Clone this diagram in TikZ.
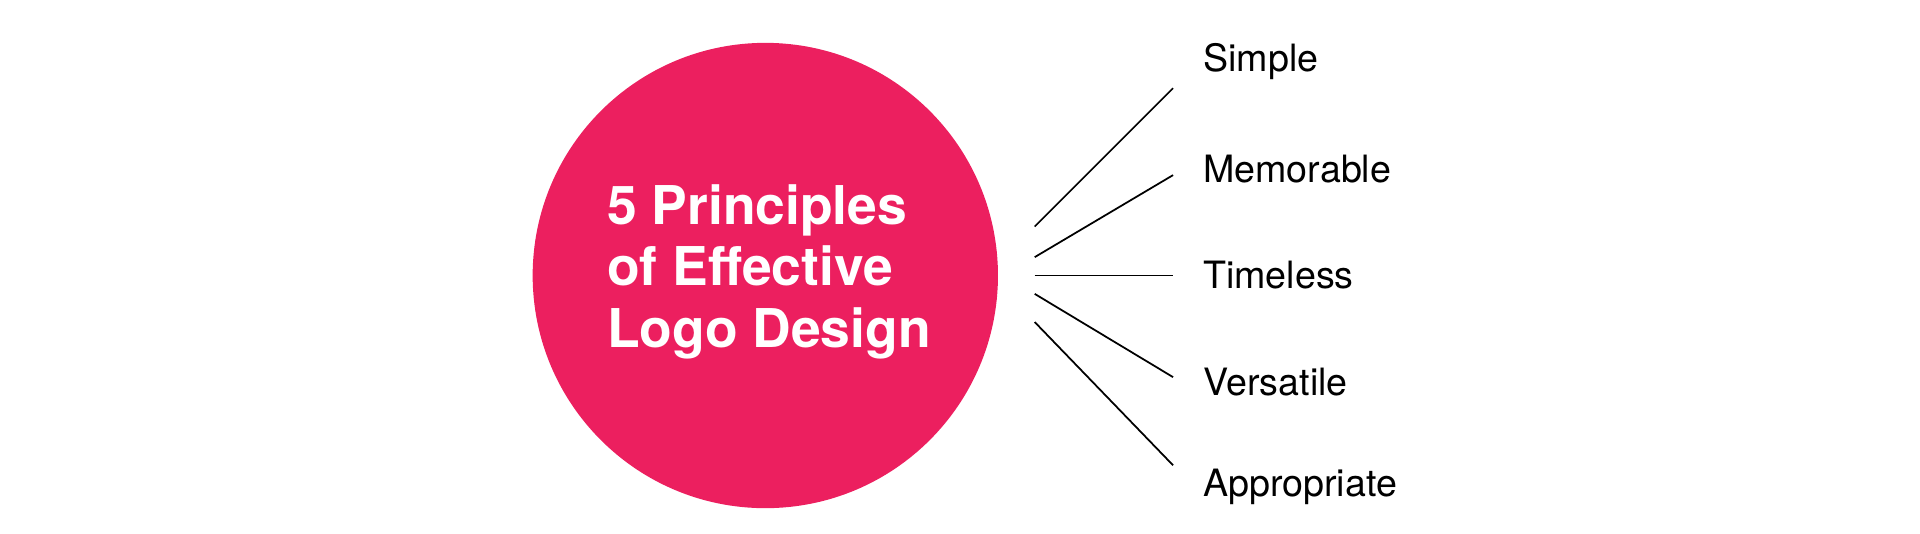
\documentclass[tikz,border=0pt]{standalone}
\usepackage{fontspec}
\setmainfont{TeX Gyre Heros}
\definecolor{pink}{HTML}{EC1F5F}
\begin{document}
\begin{tikzpicture}[x=0.012245cm,y=-0.012245cm,
  item/.style={anchor=west,font=\fontsize{10.7pt}{12pt}\selectfont,inner sep=0pt},
  link/.style={draw=black,line width=0.5pt}]
\useasboundingbox (0,0) rectangle (1568,435.3);
\fill[pink] (625,225) circle (190);
\node[align=left,text=white,font=\bfseries\fontsize{15.2pt}{17.6pt}\selectfont] (t) at (628,222) {5 Principles\\of Effective\\Logo Design};
\foreach \n/\txt/\y in {a/Simple/50,b/Memorable/138,c/Timeless/225,d/Versatile/312,e/Appropriate/398}
  \node[item] (\n) at (982,\y) {\txt};
\coordinate (a0) at (845,185); \coordinate (a1) at (958,72);
\coordinate (b0) at (845,210); \coordinate (b1) at (958,143);
\coordinate (c0) at (845,225); \coordinate (c1) at (958,225);
\coordinate (d0) at (845,240); \coordinate (d1) at (958,308);
\coordinate (e0) at (845,263); \coordinate (e1) at (958,380);
\foreach \n in {a,b,c,d,e} \draw[link] (\n0) -- (\n1);
\end{tikzpicture}
\end{document}
